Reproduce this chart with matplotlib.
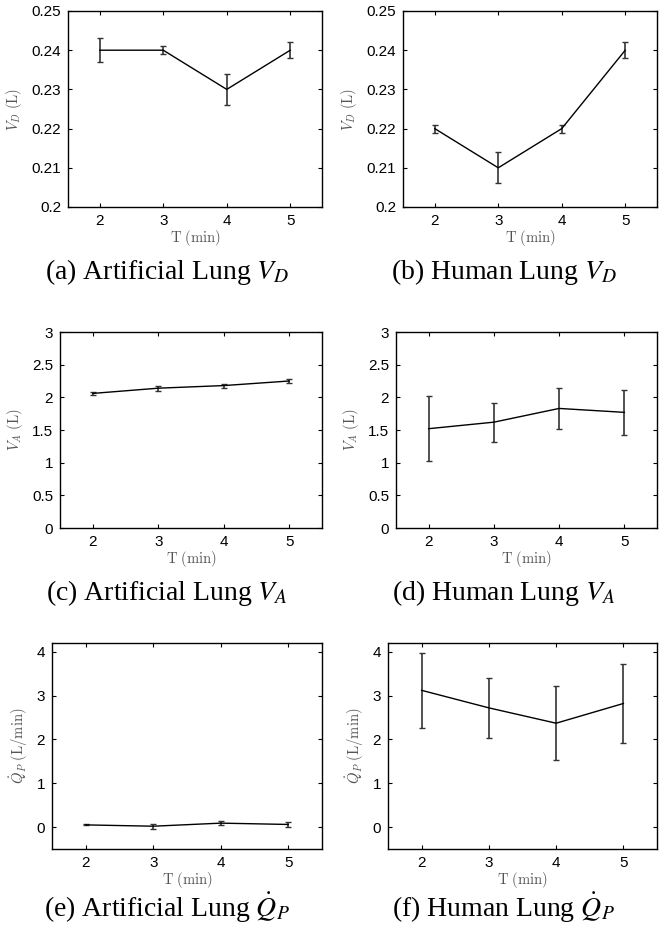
import numpy as np
import matplotlib
matplotlib.use("Agg")
import matplotlib.pyplot as plt
from matplotlib.ticker import FuncFormatter

plt.rcParams['font.family'] = ['Liberation Sans', 'DejaVu Sans']
plt.rcParams['mathtext.fontset'] = 'cm'

# data
t = [2, 3, 4, 5]
vd_art = [0.24, 0.24, 0.23, 0.24]
vd_art_err = [0.003, 0.001, 0.004, 0.002]
vd_hum = [0.22, 0.21, 0.22, 0.24]
vd_hum_err = [0.001, 0.004, 0.001, 0.002]
va_art = [2.06, 2.14, 2.18, 2.25]
va_art_err = [0.02, 0.04, 0.03, 0.03]
va_hum = [1.52, 1.62, 1.83, 1.77]
va_hum_err = [0.50, 0.30, 0.32, 0.34]
qp_art = [0.05, 0.02, 0.09, 0.06]
qp_art_err = [0.01, 0.06, 0.05, 0.06]
qp_hum = [3.12, 2.72, 2.37, 2.82]
qp_hum_err = [0.85, 0.69, 0.85, 0.90]

W, H = 668, 933
fig = plt.figure(figsize=(W / 100, H / 100), dpi=100)


def px_axes(l, r, t_, b):
    return fig.add_axes([l / W, 1 - b / H, (r - l) / W, (b - t_) / H])


def fmt(v, pos):
    return '%g' % round(v, 6)


panels = [
    # (l, r, top, bottom), y, err, ylim, yticks, ylabel, caption, caption baseline
    ((68, 322, 11, 207), vd_art, vd_art_err, (0.2, 0.25), np.arange(0.2, 0.251, 0.01),
     r'$V_D\ \mathrm{(L)}$', r'(a) Artificial Lung $V_D$', (167, 279)),
    ((403, 657, 11, 207), vd_hum, vd_hum_err, (0.2, 0.25), np.arange(0.2, 0.251, 0.01),
     r'$V_D\ \mathrm{(L)}$', r'(b) Human Lung $V_D$', (504, 279)),
    ((60, 322, 332, 528), va_art, va_art_err, (0, 3), np.arange(0, 3.01, 0.5),
     r'$V_A\ \mathrm{(L)}$', r'(c) Artificial Lung $V_A$', (167, 600)),
    ((396, 657, 332, 528), va_hum, va_hum_err, (0, 3), np.arange(0, 3.01, 0.5),
     r'$V_A\ \mathrm{(L)}$', r'(d) Human Lung $V_A$', (504, 600)),
    ((52, 322, 643, 849), qp_art, qp_art_err, (-0.5, 4.2), [0, 1, 2, 3, 4],
     r'$\dot{Q}_P\ \mathrm{(L/min)}$', r'(e) Artificial Lung $\dot{Q}_P$', (167, 917)),
    ((388, 657, 643, 849), qp_hum, qp_hum_err, (-0.5, 4.2), [0, 1, 2, 3, 4],
     r'$\dot{Q}_P\ \mathrm{(L/min)}$', r'(f) Human Lung $\dot{Q}_P$', (504, 917)),
]

for box, y, err, ylim, yticks, ylabel, caption, cpos in panels:
    ax = px_axes(*box)
    ax.errorbar(t, y, yerr=err, color='black', ecolor='#333333', lw=1.0,
                elinewidth=1.2, capsize=2.5, capthick=1.0)
    ax.set_xlim(1.5, 5.5)
    ax.set_ylim(*ylim)
    ax.set_xticks(t)
    ax.set_yticks(yticks)
    ax.yaxis.set_major_formatter(FuncFormatter(fmt))
    ax.tick_params(direction='in', top=True, right=True, labelsize=11,
                   length=3, width=0.8, pad=5)
    for s in ax.spines.values():
        s.set_linewidth(1.0)
    ax.set_xlabel(r'$\mathrm{T\ (min)}$', fontsize=10.5, color='#555555', labelpad=0)
    ax.set_ylabel(ylabel, fontsize=10.5, color='#555555', labelpad=5)
    fig.text(cpos[0] / W, 1 - cpos[1] / H, caption, ha='center', va='baseline',
             fontsize=20, family='Liberation Serif', math_fontfamily='stix')

fig.savefig('out.png', dpi=100)
